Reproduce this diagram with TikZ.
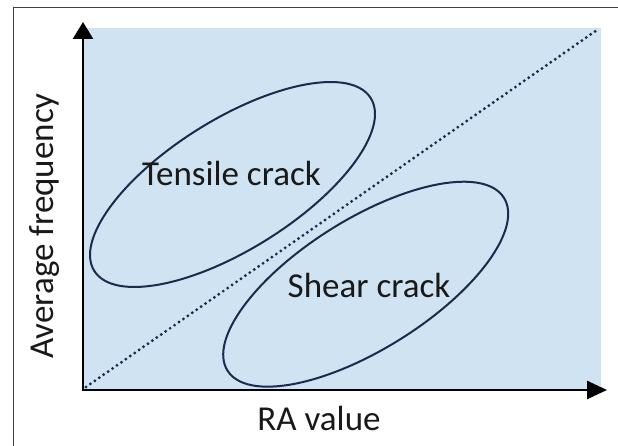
\documentclass[tikz,border=0pt]{standalone}
\usepackage{fontspec}
\setmainfont{Carlito}
\usetikzlibrary{arrows.meta,shapes.geometric}
\definecolor{bgblue}{RGB}{207,227,243}
\definecolor{navy}{RGB}{28,42,76}
\definecolor{txt}{RGB}{25,25,25}
\begin{document}
\begin{tikzpicture}[x=1pt,y=-1pt,
  crackzone/.style={draw=navy,line width=2pt,ellipse,minimum width=326pt,minimum height=130pt,inner sep=0pt,rotate=32},
  lbl/.style={text=txt,font=\fontsize{35}{40}\selectfont,inner sep=0pt,anchor=base},
  axisline/.style={line width=2.6pt,black},
  frameline/.style={line width=1.2pt,black!75}]
\useasboundingbox (0,0) rectangle (618,446);
% outer frame (top and left only)
\coordinate (fL) at (13.5,446);
\coordinate (fC) at (13.5,7.5);
\coordinate (fR) at (618,7.5);
\draw[frameline] (fL) -- (fC) -- (fR);
% background
\node[fill=bgblue,draw=none,inner sep=0pt,minimum width=518pt,minimum height=362.3pt,anchor=north west] (bg) at (83,27.7) {};
% diagonal
\coordinate (d0) at (86,387);
\coordinate (d1) at (597,30);
\draw[navy,line width=3.2pt,line cap=round,dash pattern=on 0pt off 5.4pt] (d0) -- (d1);
% ellipses
\node[crackzone] (tens) at (232.5,184.5) {};
\node[crackzone] (shear) at (365.7,284.2) {};
% axes
\coordinate (O) at (83,390);
\coordinate (ytip) at (83,22);
\coordinate (xtip) at (607,390);
\draw[axisline,{Triangle[length=17pt,width=20pt]}-{Triangle[length=20pt,width=18pt]}] (ytip) -- (O) -- (xtip);
% labels
\node[lbl] (tl) at (231.5,186) {Tensile crack};
\node[lbl] (sl) at (369,297) {Shear crack};
\node[lbl] (xl) at (319,430) {RA value};
\node[lbl,rotate=90] (yl) at (53,226) {Average frequency};
\end{tikzpicture}
\end{document}
